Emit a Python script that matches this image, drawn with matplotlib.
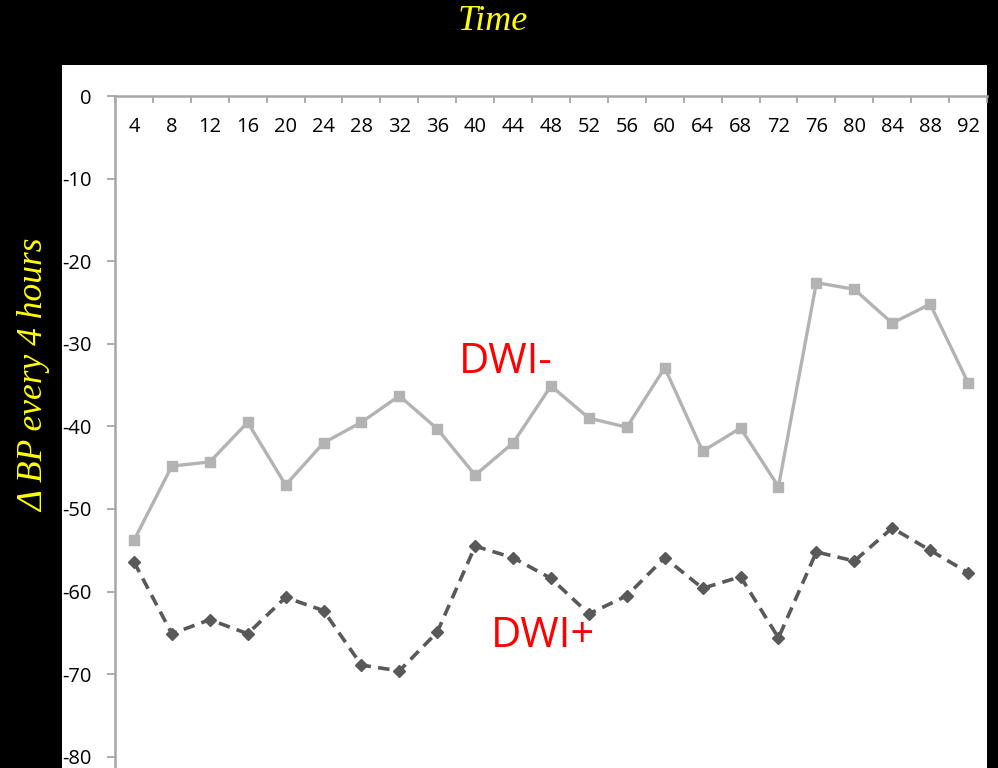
import matplotlib
matplotlib.use("Agg")
import matplotlib.pyplot as plt
from matplotlib.patches import Rectangle
from matplotlib.ticker import FixedLocator

hours = [4, 8, 12, 16, 20, 24, 28, 32, 36, 40, 44, 48, 52, 56, 60, 64, 68, 72, 76, 80, 84, 88, 92]
dwi_neg = [-53.8, -44.8, -44.3, -39.5, -47.1, -42.0, -39.5, -36.3, -40.3, -45.9, -42.0, -35.1,
           -39.0, -40.1, -32.9, -43.0, -40.2, -47.3, -22.6, -23.4, -27.5, -25.2, -34.7]
dwi_pos = [-56.4, -65.1, -63.4, -65.1, -60.7, -62.3, -68.9, -69.6, -64.9, -54.5, -55.9, -58.4,
           -62.7, -60.5, -55.9, -59.6, -58.2, -65.6, -55.2, -56.3, -52.3, -55.0, -57.7]
y_ticks = [0, -10, -20, -30, -40, -50, -60, -70, -80]

W, H = 998, 768
fig = plt.figure(figsize=(W / 100, H / 100), dpi=100, facecolor="black")

# white panel
fig.patches.append(Rectangle((62 / W, 0), (987 - 62) / W, (768 - 65) / H,
                             transform=fig.transFigure, facecolor="white",
                             edgecolor="none", zorder=-5))

ax = fig.add_axes([115 / W, 0, (987 - 115) / W, (768 - 96) / H])
ax.set_facecolor("none")
ax.set_zorder(2)

tick_font = dict(family="Open Sans", size=14.5)

ax.plot(hours, dwi_neg, color="#b3b3b3", lw=2.4, marker="s", ms=7.5,
        markeredgecolor="#b3b3b3", zorder=3)
ax.plot(hours, dwi_pos, color="#595959", lw=2.6, ls=(0, (3.2, 2.0)), marker="D", ms=6,
        markeredgecolor="#595959", zorder=3)

ax.set_xlim(2, 94)
ax.set_ylim(-(768 - 96) / 8.26, 0)

for s in ["bottom", "right"]:
    ax.spines[s].set_visible(False)
for s in ["left", "top"]:
    ax.spines[s].set_color("#a6a6a6")
    ax.spines[s].set_linewidth(1.8)

ax.xaxis.set_ticks_position("top")
ax.set_xticks(hours)
ax.set_xticklabels([str(h) for h in hours], fontdict=tick_font)
ax.xaxis.set_minor_locator(FixedLocator([h - 2 for h in hours] + [94]))
ax.tick_params(axis="x", which="major", length=0, pad=-29.5, colors="black",
               top=True, bottom=False, labeltop=True, labelbottom=False)
ax.tick_params(axis="x", which="minor", length=5, width=1.3, direction="in",
               color="#a6a6a6", top=True, bottom=False)

ax.set_yticks(y_ticks)
ax.set_yticklabels([str(v) for v in y_ticks], fontdict=tick_font)
ax.tick_params(axis="y", length=6, width=1.3, direction="out", color="#a6a6a6",
               pad=11, labelcolor="black")

ax.text(43.25, -32.2, "DWI-", color="#ff0000", fontsize=30, family="Open Sans",
        ha="center", va="center")
ax.text(47.2, -65.4, "DWI+", color="#ff0000", fontsize=30, family="Open Sans",
        ha="center", va="center")

fig.text(493 / W, 1 - 22 / H, "Time", color="#ffff00", fontsize=26,
         family="Liberation Serif", style="italic", ha="center", va="center")
fig.text(35 / W, 1 - 375 / H, "\u0394 BP every 4 hours", color="#ffff00", fontsize=25.5,
         family="Liberation Serif", style="italic", ha="center", va="center",
         rotation=90)

fig.savefig("out.png", dpi=100, facecolor="black")
